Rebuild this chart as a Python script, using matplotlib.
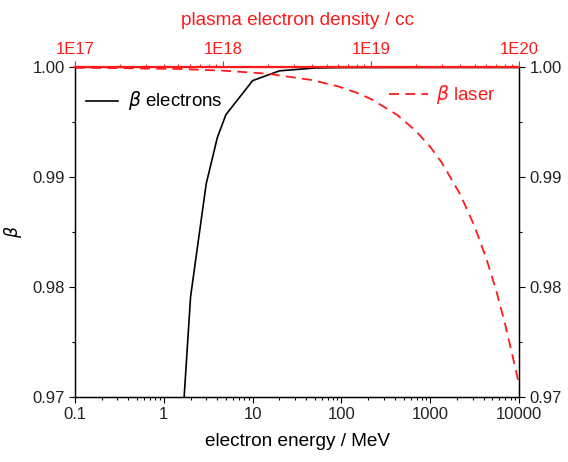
import matplotlib.pyplot as plt
from matplotlib.ticker import LogLocator, FixedLocator, NullFormatter

plt.rcParams['font.family'] = ['Liberation Sans', 'DejaVu Sans']

# beta of electrons vs kinetic energy (MeV)
energy_mev = [1, 2, 3, 4, 5, 10, 20, 50, 100, 1000, 10000]
beta_electrons = [0.9411, 0.9791, 0.9894, 0.9936, 0.9957, 0.9988, 0.99969,
                  0.99995, 0.99999, 1.0, 1.0]

# group velocity of the laser vs plasma density (per cc)
density_cc = [1e17, 2e17, 5e17, 1e18, 2e18, 4e18, 6e18, 8e18, 1e19, 1.5e19,
              2e19, 2.5e19, 3e19, 4e19, 5e19, 6e19, 7e19, 8e19, 9e19, 1e20]
beta_laser = [0.99997, 0.99994, 0.99986, 0.99971, 0.99943, 0.99885, 0.99827,
              0.99770, 0.99712, 0.99568, 0.99423, 0.99280, 0.99134, 0.98844,
              0.98553, 0.98261, 0.97968, 0.97674, 0.97379, 0.97110]

energy_ticks = [0.1, 1, 10, 100, 1000, 10000]
energy_labels = ['0.1', '1', '10', '100', '1000', '10000']
density_ticks = [1e17, 1e18, 1e19, 1e20]
density_labels = ['1E17', '1E18', '1E19', '1E20']
beta_ticks = [0.97, 0.98, 0.99, 1.00]

red = '#ff1a1a'

fig = plt.figure(figsize=(5.68, 4.62), dpi=100)
ax = fig.add_axes([0.132, 0.141, 0.782, 0.713])

ax.plot(energy_mev, beta_electrons, color='black', lw=1.2)
ax.set_xscale('log')
ax.set_xlim(0.1, 10000)
ax.set_ylim(0.97, 1.00)
ax.set_xticks(energy_ticks)
ax.set_xticklabels(energy_labels)
ax.xaxis.set_minor_locator(LogLocator(base=10, subs=range(2, 10), numticks=20))
ax.xaxis.set_minor_formatter(NullFormatter())
ax.set_yticks(beta_ticks)
ax.set_yticklabels(['%.2f' % v for v in beta_ticks])
ax.yaxis.set_minor_locator(FixedLocator([0.975, 0.985, 0.995]))
ax.tick_params(which='both', direction='out', labelsize=12, colors='black',
               labelcolor='#222222', width=0.8,
               left=True, right=True, labelleft=True, labelright=True)
ax.tick_params(which='major', length=4)
ax.tick_params(which='minor', length=2.5)
ax.set_xlabel('electron energy / MeV', fontsize=13.7, labelpad=8)
ax.set_ylabel(r'$\beta$', fontsize=12.5, labelpad=6)
for s in ['left', 'right', 'bottom']:
    ax.spines[s].set_linewidth(1.0)

ax.plot([0.133, 0.305], [0.99695, 0.99695], color='black', lw=1.2)
ax.text(0.40, 0.99695, r'$\beta$ electrons', fontsize=13.5, va='center', ha='left')

# top axis: plasma density
ax2 = ax.twiny()
ax2.plot(density_cc, beta_laser, color=red, lw=1.3, dashes=(5.5, 3.5))
ax2.set_xscale('log')
ax2.set_xlim(1e17, 1e20)
ax2.set_xticks(density_ticks)
ax2.set_xticklabels(density_labels)
ax2.xaxis.set_minor_locator(LogLocator(base=10, subs=range(2, 10), numticks=20))
ax2.xaxis.set_minor_formatter(NullFormatter())
ax2.tick_params(which='both', direction='out', colors=red, labelsize=12, width=0.8)
ax2.tick_params(which='major', length=4)
ax2.tick_params(which='minor', length=2.5)
ax2.spines['top'].set_color(red)
ax2.spines['top'].set_linewidth(1.6)
ax2.set_xlabel('plasma electron density / cc', color=red, fontsize=13.7, labelpad=12)

ax2.plot([1.32e19, 2.43e19], [0.99756, 0.99756], color=red, lw=1.3, dashes=(5.5, 3.5))
ax2.text(2.75e19, 0.99756, r'$\beta$ laser', color=red, fontsize=13.5, va='center', ha='left')

fig.savefig('out.png', dpi=100)
